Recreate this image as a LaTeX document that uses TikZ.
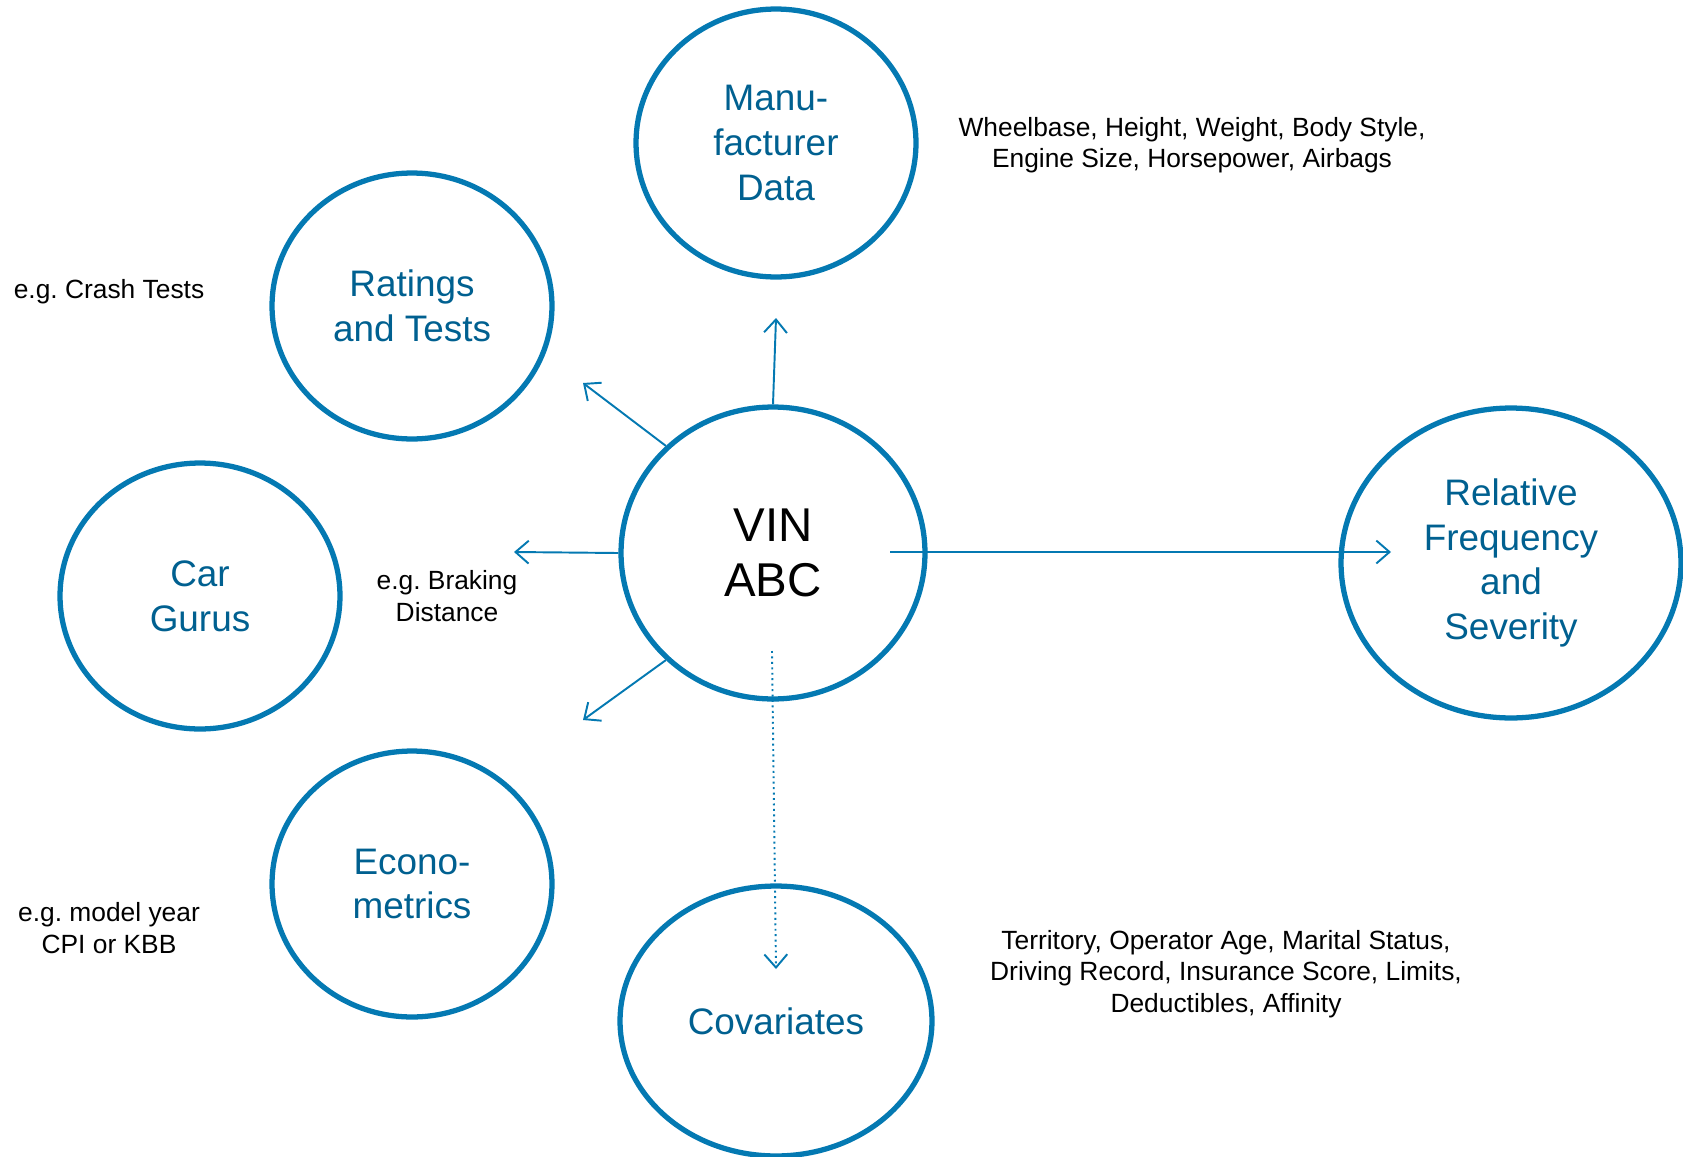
\documentclass[tikz,border=0pt]{standalone}
\usepackage{fontspec}
\setmainfont{Liberation Sans}
\usepackage{xcolor}
\usepackage{tikz}
\usetikzlibrary{shapes,arrows,positioning,calc,arrows.meta}
\frenchspacing

\definecolor{ringblue}{RGB}{4,121,178}
\definecolor{textblue}{RGB}{0,96,144}

\tikzset{
    source/.style={draw=ringblue, line width=3pt, ellipse, inner sep=0pt,
        align=center, text=textblue, font=\fontsize{21}{25.5}\selectfont},
    note/.style={align=center, text=black, font=\fontsize{15}{18}\selectfont},
    feed/.style={draw=ringblue, line width=1.1pt,
        -{Straight Barb[length=7.5pt,width=13pt,line width=1.1pt]}},
}

\begin{document}
\begin{tikzpicture}[x=0.02cm, y=-0.02cm]
    \useasboundingbox (0,0) rectangle (1683,1156);

    % Circles
    \node[source, minimum width=5.6cm, minimum height=5.36cm] (manu) at (776,143) {Manu-\\facturer\\Data};
    \node[source, minimum width=5.6cm, minimum height=5.32cm] (ratings) at (412,306) {Ratings\\and Tests};
    \node[source, minimum width=5.6cm, minimum height=5.32cm] (gurus) at (200,596) {Car\\Gurus};
    \node[source, minimum width=5.6cm, minimum height=5.32cm] (econ) at (412,884) {Econo-\\metrics};
    \node[source, minimum width=6.08cm, minimum height=5.84cm, text=black,
        font=\fontsize{27}{31.5}\selectfont] (vin) at (773,553) {VIN\\ABC};
    \node[source, minimum width=6.8cm, minimum height=6.2cm] (relfreq) at (1511,563) {Relative\\Frequency\\and\\Severity};
    \node[source, minimum width=6.24cm, minimum height=5.4cm] (covar) at (776,1021) {Covariates};

    % Notes
    \node[note] (manunote) at (1192,145) {Wheelbase, Height, Weight, Body Style,\\Engine Size, Horsepower, Airbags};
    \node[note] (ratnote) at (109,292) {e.g. Crash Tests};
    \node[note] (gurunote) at (447,596) {e.g. Braking\\Distance};
    \node[note] (econnote) at (109,928) {e.g. model year\\CPI or KBB};
    \node[note] (covnote) at (1226,974) {Territory, Operator Age, Marital Status,\\Driving Record, Insurance Score, Limits,\\Deductibles, Affinity};

    % Arrow ends
    \coordinate (upend) at (776,318);
    \coordinate (ulend) at (583,383);
    \coordinate (lend) at (514,552);
    \coordinate (dlend) at (583,720);
    \coordinate (rstart) at (890,552);
    \coordinate (rend) at (1391,552);
    \coordinate (dstart) at (772,651);
    \coordinate (dend) at (776,969);

    % Arrows out of VIN
    \draw[feed] (vin.north) -- (upend);
    \draw[feed] (vin.135) -- (ulend);
    \draw[feed] (vin.west) -- (lend);
    \draw[feed] (vin.225) -- (dlend);
    \draw[feed] (rstart) -- (rend);
    \draw[feed, dotted] (dstart) -- (dend);

\end{tikzpicture}
\end{document}
